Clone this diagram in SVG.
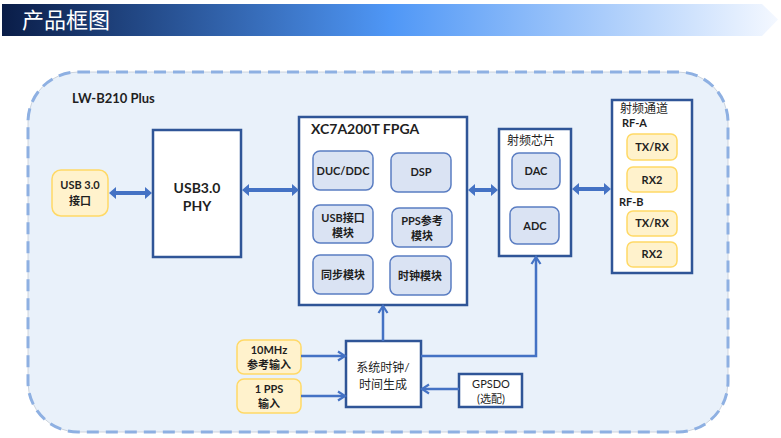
<svg xmlns="http://www.w3.org/2000/svg" width="781" height="438" viewBox="0 0 781 438">
<defs>
<linearGradient id="hdr" x1="0" y1="0" x2="1" y2="0">
<stop offset="0" stop-color="#0a1d48"/>
<stop offset="0.5" stop-color="#4f97f6"/>
<stop offset="1" stop-color="#f4f8ff"/>
</linearGradient>
<marker id="open" markerWidth="12" markerHeight="12" refX="9" refY="6" orient="auto" markerUnits="userSpaceOnUse">
<path d="M2,1.5 L9,6 L2,10.5" fill="none" stroke="#4472c4" stroke-width="2.2"/>
</marker>
</defs>
<style>
text{font-family:Lato,"Noto Sans CJK SC",sans-serif;fill:#1f1f1f;text-anchor:middle}
.b{font-weight:bold}
.big{font-size:14px;font-weight:bold}
.s{font-size:11px}
.box{fill:#fff;stroke:#2f5597;stroke-width:2.5}
.in{fill:#dae3f3;stroke:#5a7dc2;stroke-width:1.5}
.y{fill:#fff2cc;stroke:#ffd966;stroke-width:1.5}
.ln{fill:none;stroke:#4472c4;stroke-width:2.5}
.tk{fill:#4472c4}
</style>
<rect width="781" height="438" fill="#fff"/>
<g id="header">
<polygon points="2,4 762,4 778,19.5 762,36 2,36" fill="url(#hdr)"/>
<text x="22" y="28" style="font-size:22px;fill:#fff;text-anchor:start;font-family:'Noto Sans CJK SC',sans-serif">产品框图</text>
</g>
<g id="board">
<rect x="28" y="72" width="700" height="360" rx="50" fill="#e9f1fa" stroke="#c4ccd6" stroke-width="0.8"/>
<rect x="28" y="72" width="700" height="360" rx="50" fill="none" stroke="#8eb0e2" stroke-width="3" stroke-dasharray="12,7"/>
<text x="72" y="103" class="b" style="font-size:13px;text-anchor:start">LW-B210 Plus</text>
</g>
<g id="usb_if">
<rect x="52" y="170" width="56" height="46" rx="9" class="y"/>
<text x="80" y="189" class="s b">USB 3.0</text>
<text x="80" y="205" class="s b">接口</text>
</g>
<g id="phy">
<rect x="153" y="130" width="88" height="127" class="box"/>
<text x="197" y="193" class="big">USB3.0</text>
<text x="197" y="211" class="big">PHY</text>
</g>
<g id="fpga">
<rect x="299" y="117" width="168" height="188" class="box"/>
<text x="311" y="134" class="big" style="text-anchor:start">XC7A200T FPGA</text>
<rect x="313" y="151" width="60" height="39" rx="7" class="in"/>
<text x="343" y="175" class="s b">DUC/DDC</text>
<rect x="391" y="153" width="60" height="39" rx="7" class="in"/>
<text x="421" y="176" class="s b">DSP</text>
<rect x="313" y="205" width="60" height="38" rx="7" class="in"/>
<text x="343" y="222" class="s b">USB接口</text>
<text x="343" y="237" class="s b">模块</text>
<rect x="392" y="208" width="60" height="39" rx="7" class="in"/>
<text x="422" y="225" class="s b">PPS参考</text>
<text x="422" y="240" class="s b">模块</text>
<rect x="313" y="255" width="60" height="39" rx="7" class="in"/>
<text x="343" y="279" class="s b">同步模块</text>
<rect x="390" y="256" width="61" height="39" rx="7" class="in"/>
<text x="420" y="280" class="s b">时钟模块</text>
</g>
<g id="rfchip">
<rect x="499" y="129" width="72" height="127" class="box"/>
<text x="507" y="145" style="font-size:12px;text-anchor:start">射频芯片</text>
<rect x="512" y="153" width="48" height="36" rx="7" class="in"/>
<text x="536" y="175" class="s b">DAC</text>
<rect x="510" y="207" width="49" height="37" rx="7" class="in"/>
<text x="535" y="230" class="s b">ADC</text>
</g>
<g id="rfpath">
<rect x="612" y="100" width="80" height="173" class="box"/>
<text x="620" y="113" style="font-size:12px;text-anchor:start">射频通道</text>
<text x="622" y="127" class="s b" style="text-anchor:start">RF-A</text>
<rect x="627" y="134" width="50" height="26" rx="6" class="y"/>
<text x="652" y="151" class="s b">TX/RX</text>
<rect x="627" y="167" width="50" height="25" rx="6" class="y"/>
<text x="652" y="184" class="s b">RX2</text>
<text x="619" y="206" class="s b" style="text-anchor:start">RF-B</text>
<rect x="627" y="211" width="50" height="25" rx="6" class="y"/>
<text x="652" y="227" class="s b">TX/RX</text>
<rect x="627" y="242" width="50" height="25" rx="6" class="y"/>
<text x="652" y="258" class="s b">RX2</text>
</g>
<g id="ref10m">
<rect x="237" y="340" width="64" height="34" rx="7" class="y"/>
<text x="269" y="354" class="s b">10MHz</text>
<text x="269" y="369" class="s b">参考输入</text>
</g>
<g id="pps">
<rect x="237" y="379" width="64" height="34" rx="7" class="y"/>
<text x="269" y="393" class="s b">1 PPS</text>
<text x="269" y="408" class="s b">输入</text>
</g>
<g id="sysclk">
<rect x="346" y="341" width="75" height="66" class="box"/>
<text x="383" y="372" style="font-size:12px">系统时钟/</text>
<text x="383" y="389" style="font-size:12px">时间生成</text>
</g>
<g id="gpsdo">
<rect x="459" y="374" width="63" height="33" class="box"/>
<text x="491" y="388" class="s">GPSDO</text>
<text x="491" y="403" class="s">(选配)</text>
</g>
<g id="connectors">
<polygon class="tk" points="109,193 116,187 116,191 145,191 145,187 152,193 145,199 145,195 116,195 116,199"/>
<polygon class="tk" points="242,190 249,184 249,188 292,188 292,184 299,190 292,196 292,192 249,192 249,196"/>
<polygon class="tk" points="468,190 475,184 475,188 491,188 491,184 498,190 491,196 491,192 475,192 475,196"/>
<polygon class="tk" points="572,189 579,183 579,187 604,187 604,183 611,189 604,195 604,191 579,191 579,195"/>
<line class="ln" x1="301" y1="356" x2="345" y2="356" marker-end="url(#open)"/>
<line class="ln" x1="301" y1="396" x2="345" y2="396" marker-end="url(#open)"/>
<line class="ln" x1="459" y1="389" x2="422" y2="389" marker-end="url(#open)"/>
<line class="ln" x1="383" y1="341" x2="383" y2="306" marker-end="url(#open)"/>
<polyline class="ln" points="421,356 536,356 536,257" marker-end="url(#open)"/>
</g>
</svg>
